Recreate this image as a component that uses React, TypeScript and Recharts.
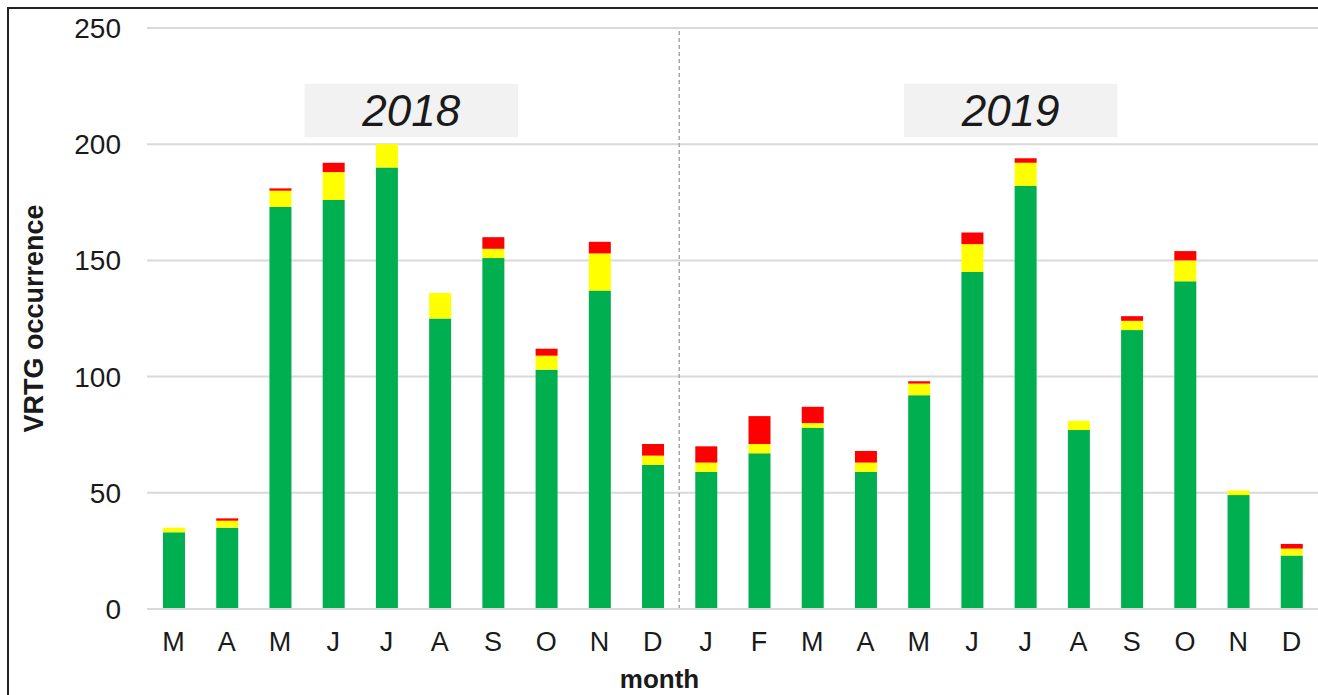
import React from 'react';
import {
  ComposedChart,
  Bar,
  XAxis,
  YAxis,
  CartesianGrid,
  ReferenceLine,
  ReferenceArea,
} from 'recharts';

// month letters, Mar 2018 .. Dec 2019
const months = ['M', 'A', 'M', 'J', 'J', 'A', 'S', 'O', 'N', 'D', 'J', 'F', 'M', 'A', 'M', 'J', 'J', 'A', 'S', 'O', 'N', 'D'];

// stacked counts
const green = [33, 35, 173, 176, 190, 125, 151, 103, 137, 62, 59, 67, 78, 59, 92, 145, 182, 77, 120, 141, 49, 23];
const yellow = [2, 3, 7, 12, 10, 11, 4, 6, 16, 4, 4, 4, 2, 4, 5, 12, 10, 4, 4, 9, 2, 3];
const red = [0, 1, 1, 4, 0, 0, 5, 3, 5, 5, 7, 12, 7, 5, 1, 5, 2, 0, 2, 4, 0, 2];

const yTicks = [0, 50, 100, 150, 200, 250];

const data = months.map((m, i) => ({
  id: i,
  month: m,
  green: green[i],
  yellow: yellow[i],
  red: red[i],
}));

const palette = {
  green: '#00b050',
  yellow: '#ffff00',
  red: '#ff0000',
  grid: '#d9d9d9',
  text: '#1a1a1a',
  box: '#f2f2f2',
  divider: '#a6a6a6',
};

const font = "'Liberation Sans', Arial, sans-serif";

export default function App() {
  return (
    <div style={{ position: 'absolute', left: 0, top: 0, width: 1318, height: 695, background: '#fff', overflow: 'hidden' }}>
      <ComposedChart
        width={1318}
        height={695}
        data={data}
        margin={{ top: 28, right: 0, left: 0, bottom: 0 }}
        style={{ fontFamily: font }}
      >
        <CartesianGrid vertical={false} stroke={palette.grid} strokeWidth={2} />
        <XAxis
          dataKey="id"
          type="category"
          interval={0}
          tickFormatter={(i: number) => months[i]}
          tickLine={false}
          tickSize={0}
          tickMargin={23}
          height={86}
          axisLine={{ stroke: palette.grid, strokeWidth: 2 }}
          tick={{ fill: palette.text, fontSize: 27 }}
          label={{
            value: 'month',
            position: 'insideBottom',
            offset: 7,
            dx: -73,
            style: { fontWeight: 700, fontSize: 26, fill: palette.text },
          }}
        />
        {/* hidden numeric axis: category i sits at x = i */}
        <XAxis
          xAxisId="n"
          dataKey="id"
          type="number"
          domain={[-0.5, 21.5]}
          ticks={[-0.5, 21.5]}
          allowDataOverflow
          hide
        />
        <YAxis
          domain={[0, 250]}
          ticks={yTicks}
          width={147}
          axisLine={false}
          tickLine={false}
          tickSize={0}
          tickMargin={26}
          tick={{ fill: palette.text, fontSize: 28 }}
          label={{
            value: 'VRTG occurrence',
            angle: -90,
            position: 'insideLeft',
            offset: 33,
            style: { textAnchor: 'middle', fontWeight: 700, fontSize: 27, fill: palette.text },
          }}
        />
        <ReferenceArea
          xAxisId="n"
          x1={2.46}
          x2={6.47}
          y1={203}
          y2={226}
          fill={palette.box}
          fillOpacity={1}
          stroke="none"
          label={{ value: '2018', position: 'center', style: { fontStyle: 'italic', fontSize: 44, fill: palette.text } }}
        />
        <ReferenceArea
          xAxisId="n"
          x1={13.72}
          x2={17.73}
          y1={203}
          y2={226}
          fill={palette.box}
          fillOpacity={1}
          stroke="none"
          label={{ value: '2019', position: 'center', style: { fontStyle: 'italic', fontSize: 44, fill: palette.text } }}
        />
        <ReferenceLine xAxisId="n" x={9.5} stroke={palette.divider} strokeWidth={1.5} strokeDasharray="4 3" />
        <Bar dataKey="green" stackId="a" fill={palette.green} barSize={22} isAnimationActive={false} />
        <Bar dataKey="yellow" stackId="a" fill={palette.yellow} barSize={22} isAnimationActive={false} />
        <Bar dataKey="red" stackId="a" fill={palette.red} barSize={22} isAnimationActive={false} />
      </ComposedChart>
      <div
        style={{
          position: 'absolute',
          left: 7,
          top: 7,
          right: -10,
          bottom: -10,
          borderTop: '2.5px solid #222',
          borderLeft: '2.5px solid #222',
          pointerEvents: 'none',
        }}
      />
    </div>
  );
}
